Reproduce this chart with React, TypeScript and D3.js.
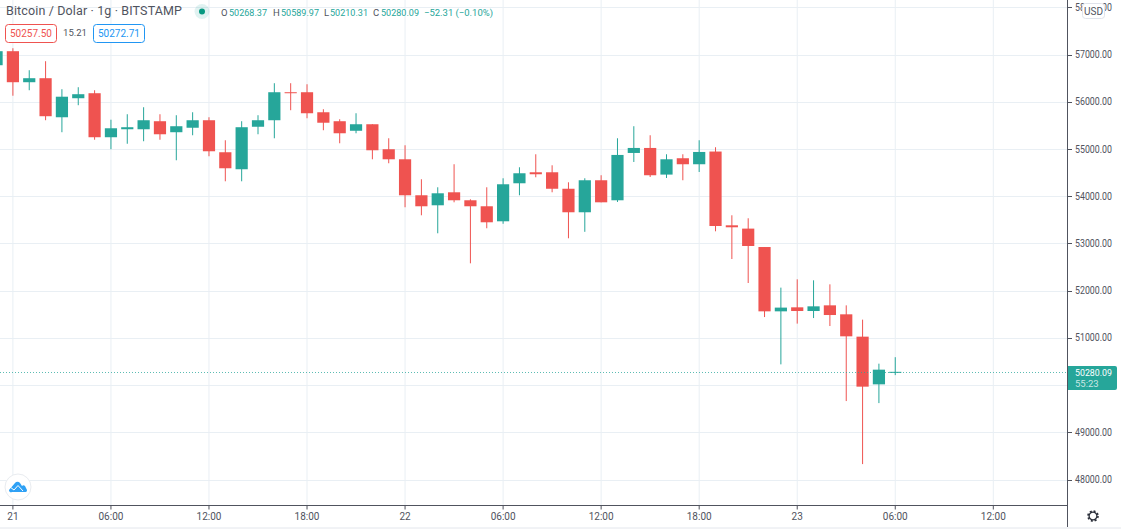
import React from "react";
import * as d3 from "d3";

const opens = [56773,57070,56413,56498,55671,56074,56180,55248,55417,55417,55587,55354,55449,55608,54930,54570,55470,55608,56201,56201,55777,55587,55385,55523,54994,54781,54019,53807,54082,53913,53786,53468,54273,54506,54506,54157,53659,54337,53913,54915,55021,54457,54803,54676,54945,53383,53313,52923,51561,51646,51568,51688,51498,51025,50015,50268.37];
const highs = [57100,57133,56667,56858,56265,56307,56243,55619,55735,55883,55735,55714,55777,55671,55184,55587,55714,56392,56392,56370,55841,55629,55756,55523,55226,55078,54358,54188,54676,53934,54188,54379,54612,54887,54654,54294,54379,54443,55226,55481,55290,54887,54887,55184,55036,53595,53532,52923,52063,52239,52218,52133,51688,51385,50453,50589.97];
const lows = [56700,56127,56243,55608,55354,55926,55195,54994,55110,55163,55195,54760,55290,54845,54315,54315,55311,55226,55820,55650,55396,55120,55332,54781,54697,53765,53595,53214,53870,52578,53320,53415,54019,54400,54082,53108,53245,53870,53877,54724,54406,54385,54337,54512,53256,52669,52161,51440,50438,51301,51419,51250,49661,48326,49618,50210.31];
const closes = [57070,56413,56498,55693,56106,56159,55248,55438,55460,55608,55311,55481,55608,54951,54591,55460,55608,56201,56190,55756,55555,55332,55523,54972,54781,54019,53786,54061,53913,53786,53447,54252,54485,54464,54157,53659,54337,53870,54873,55021,54443,54781,54676,54936,53368,53341,52945,51561,51640,51568,51667,51483,51032,49966,50326,50280.09];
const firstHour = -1;

const priceTicks = [48000,49000,50000,51000,52000,53000,54000,55000,56000,57000,58000];
const timeHours = [0,6,12,18,24,30,36,42,48,54,60];
const timeLabels = ["21","06:00","12:00","18:00","22","06:00","12:00","18:00","23","06:00","12:00"];

const title = "Bitcoin / Dolar · 1g · BITSTAMP";
const ohlcLabels = ["O","H","L","C"];
const ohlcValues = ["50268.37","50589.97","50210.31","50280.09"];
const ohlcChange = "−52.31 (−0.10%)";
const bidText = "50257.50";
const spreadText = "15.21";
const askText = "50272.71";
const lastPrice = 50280.09;
const lastPriceText = "50280.09";
const countdownText = "55:23";

const W = 1121, H = 530, AX = 1067.5, AY = 505.5;
const UP = "#26a69a", DOWN = "#ef5350";
const GRID = "#e9eff4", AXIS = "#50535e";
const FONT = "Roboto, 'Liberation Sans', sans-serif";

const x = d3.scaleLinear().domain([0, 60]).range([12.9, 993.3]);
const y = d3.scaleLinear().domain([57000, 48000]).range([54.5, 479.5]);
const bodyW = 12.2;

const ohlcLabelXs = [221, 273, 324, 373];
const ohlcValueXs = [229, 281, 330, 381];

export default function App() {
  const lastY = Math.round(y(lastPrice)) + 0.5;
  return (
    <svg width={W} height={H} viewBox={`0 0 ${W} ${H}`} style={{ position: "absolute", left: 0, top: 0, background: "#fff", fontFamily: FONT }}>
      <defs>
        <clipPath id="plot"><rect x={0} y={0} width={AX} height={AY} /></clipPath>
      </defs>
      <g clipPath="url(#plot)">
        {priceTicks.map(p => (
          <line key={p} x1={0} x2={AX} y1={Math.round(y(p)) + 0.5} y2={Math.round(y(p)) + 0.5} stroke={GRID} />
        ))}
        {timeHours.map(h => (
          <line key={h} x1={x(h)} x2={x(h)} y1={0} y2={AY} stroke={GRID} />
        ))}
        {opens.map((o, i) => {
          const c = closes[i];
          const cx = x(i + firstHour);
          const col = c >= o ? UP : DOWN;
          const top = y(Math.max(o, c));
          const bh = Math.max(Math.abs(y(o) - y(c)), 1);
          return (
            <g key={i}>
              <line x1={cx} x2={cx} y1={y(highs[i])} y2={y(lows[i])} stroke={col} strokeWidth={1} />
              <rect x={cx - bodyW / 2} y={top} width={bodyW} height={bh} fill={col} />
            </g>
          );
        })}
        <line x1={0} x2={AX} y1={lastY} y2={lastY} stroke={UP} strokeOpacity={0.75} strokeWidth={1} strokeDasharray="1 2" />
      </g>

      {/* axes */}
      <line x1={AX} x2={AX} y1={0} y2={527} stroke={AXIS} />
      <line x1={0} x2={AX} y1={AY} y2={AY} stroke={AXIS} />
      <line x1={0} x2={1121} y1={528} y2={528} stroke="#e3e6ec" />
      {priceTicks.map(p => (
        <g key={p}>
          <line x1={AX} x2={AX + 4.5} y1={Math.round(y(p)) + 0.5} y2={Math.round(y(p)) + 0.5} stroke={AXIS} />
          <text x={1075} y={y(p) + 3.6} fontSize={10} fill={AXIS} textLength={37} lengthAdjust="spacingAndGlyphs">{d3.format(".2f")(p)}</text>
        </g>
      ))}
      {timeHours.map((h, i) => (
        <g key={h}>
          <line x1={x(h)} x2={x(h)} y1={AY} y2={AY + 4} stroke={AXIS} />
          <text x={x(h)} y={520} fontSize={10} fill={AXIS} textAnchor="middle">{timeLabels[i]}</text>
        </g>
      ))}

      {/* last price label */}
      <path d="M1068,366 H1115 a2,2 0 0 1 2,2 V388 a2,2 0 0 1 -2,2 H1068 Z" fill={UP} />
      <text x={1075} y={375.8} fontSize={9.5} fill="#fff" textLength={37} lengthAdjust="spacingAndGlyphs">{lastPriceText}</text>
      <text x={1075} y={387.3} fontSize={9.5} fill="#fff" fillOpacity={0.75}>{countdownText}</text>

      {/* USD button */}
      <rect x={1082.5} y={3.5} width={22} height={15} rx={3} fill="#fff" stroke="#e0e3eb" />
      <text x={1093.5} y={14.8} fontSize={10} fill="#50535e" textAnchor="middle">USD</text>

      {/* legend */}
      <text x={6} y={15} fontSize={12.5} fill="#50535e" textLength={176} lengthAdjust="spacing">{title}</text>
      <circle cx={202} cy={11.5} r={7.5} fill="#26a69a" fillOpacity={0.14} />
      <circle cx={202} cy={11.5} r={3} fill="#089981" />
      {ohlcLabels.map((l, i) => (
        <g key={l}>
          <text x={ohlcLabelXs[i]} y={16} fontSize={9.5} fill="#50535e">{l}</text>
          <text x={ohlcValueXs[i]} y={16} fontSize={9.5} fill={UP} textLength={38} lengthAdjust="spacingAndGlyphs">{ohlcValues[i]}</text>
        </g>
      ))}
      <text x={424} y={16} fontSize={9.5} fill={UP} textLength={69} lengthAdjust="spacingAndGlyphs">{ohlcChange}</text>

      <rect x={5.5} y={24.5} width={51} height={18} rx={3} fill="#fff" stroke={DOWN} />
      <text x={31} y={37} fontSize={10} fill={DOWN} textAnchor="middle">{bidText}</text>
      <text x={75} y={36} fontSize={9.5} fill="#50535e" textAnchor="middle">{spreadText}</text>
      <rect x={93.5} y={24.5} width={51} height={18} rx={3} fill="#fff" stroke="#2196f3" />
      <text x={119} y={37} fontSize={10} fill="#2196f3" textAnchor="middle">{askText}</text>

      {/* logo */}
      <circle cx={18} cy={487} r={13} fill="#fff" stroke="#e9ecf0" />
      <path d="M9,490 L15,483 a3,3 0 0 1 5,0 L22,486 a2,2 0 0 1 3,0 L27,490 a2,2 0 0 1 -1,2 H12 a2,2 0 0 1 -3,-2 Z" fill="#2fa1f5" />
      <path d="M10,487 L14,490 L18,485.5 L23,491" fill="none" stroke="#fff" strokeWidth={1} />

      {/* settings */}
      <g transform="translate(1093,516)" fill="none" stroke="#2a2e39">
        <circle r={3.9} strokeWidth={1.3} />
        <circle r={5} strokeWidth={1.6} strokeDasharray="2 1.93" />
      </g>
    </svg>
  );
}
